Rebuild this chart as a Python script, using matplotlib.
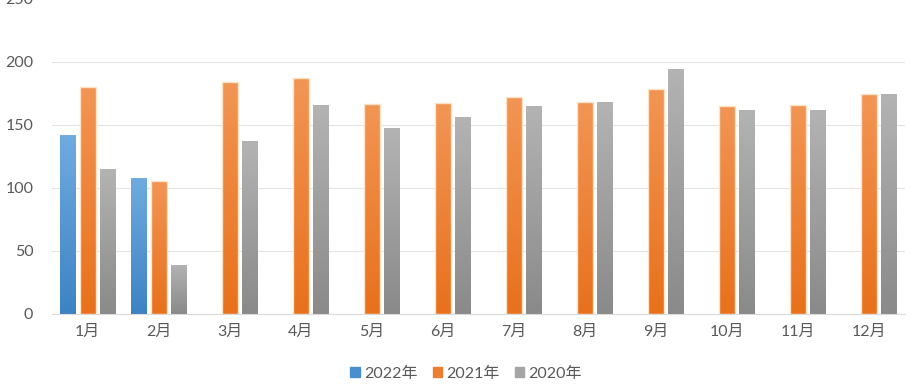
import numpy as np
import matplotlib.pyplot as plt
from matplotlib.colors import LinearSegmentedColormap
from matplotlib.patches import Patch

plt.rcParams['font.family'] = ['Lato', 'Noto Sans CJK SC', 'DejaVu Sans']

months = ['1月', '2月', '3月', '4月', '5月', '6月', '7月', '8月', '9月', '10月', '11月', '12月']
series = ['2022年', '2021年', '2020年']
v2022 = [142, 108, np.nan, np.nan, np.nan, np.nan, np.nan, np.nan, np.nan, np.nan, np.nan, np.nan]
v2021 = [180, 105.5, 184, 187, 166.5, 167, 172, 168, 178.5, 165, 165.5, 174.5]
v2020 = [115, 39, 137, 166, 147.5, 156, 165, 168, 194, 162, 162, 174.5]

# top colour, bottom colour, legend colour
colors = [('#6fabdf', '#3d83c4', '#4a8fcd'),
          ('#f29554', '#e8711c', '#ed7d31'),
          ('#b3b3b3', '#8a8a8a', '#a5a5a5')]

fig = plt.figure(figsize=(9.14, 3.89), dpi=100)
ax = fig.add_axes([0.057, 0.193, 0.933, 0.81])

x = np.arange(len(months))
width = 0.225
step = 0.28
for i, vals in enumerate([v2022, v2021, v2020]):
    top, bot, _ = colors[i]
    cmap = LinearSegmentedColormap.from_list('g%d' % i, [bot, top])
    bars = ax.bar(x + (i - 1) * step, vals, width, color='none', zorder=2)
    for b in bars:
        h = b.get_height()
        if not np.isfinite(h) or h <= 0:
            continue
        x0 = b.get_x()
        grad = np.linspace(0, 1, 100).reshape(-1, 1)
        im = ax.imshow(grad, cmap=cmap, origin='lower', aspect='auto',
                       extent=[x0, x0 + b.get_width(), 0, h], zorder=2)
        im.set_clip_path(b)
        if i == 1:
            ax.bar(b.get_x() + b.get_width() / 2, h, b.get_width(), color='none',
                   edgecolor='#fde3c4', linewidth=1.0, zorder=3)

ax.set_xlim(-0.5, len(months) - 0.5)
ax.set_ylim(0, 250)
ax.set_yticks([0, 50, 100, 150, 200, 250])
ax.set_xticks(x)
ax.set_xticklabels(months)
ax.grid(axis='y', color='#e3e3e3', linewidth=0.8, zorder=0)
ax.set_axisbelow(True)
for s in ['top', 'right', 'left']:
    ax.spines[s].set_visible(False)
ax.spines['bottom'].set_color('#d9d9d9')
ax.tick_params(axis='both', length=0, labelsize=11.5, labelcolor='#595959')
ax.tick_params(axis='y', pad=13.5)
ax.tick_params(axis='x', pad=8)

handles = [Patch(color=c[2], label=s) for c, s in zip(colors, series)]
fig.legend(handles=handles, loc='center', bbox_to_anchor=(0.51, 0.04), ncol=3,
           frameon=False, handlelength=0.6, handleheight=0.6, handletextpad=0.25,
           columnspacing=0.95, fontsize=11.5, labelcolor='#595959')

fig.savefig('out.png', dpi=100)
